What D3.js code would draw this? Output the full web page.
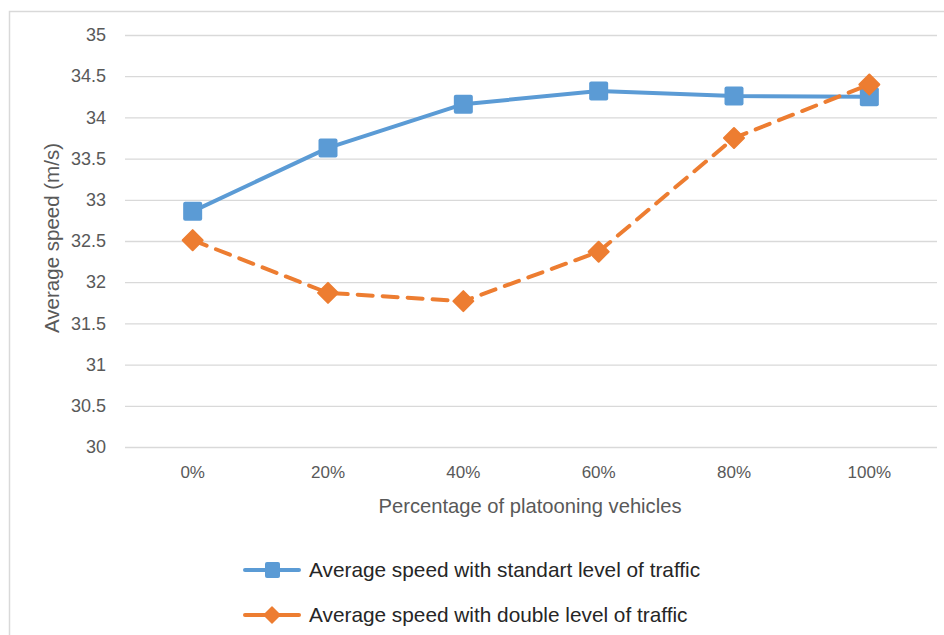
<!DOCTYPE html>
<html>
<head>
<meta charset="utf-8">
<script src="https://cdnjs.cloudflare.com/ajax/libs/d3/7.8.5/d3.min.js"></script>
<style>
  body { margin: 0; background: #fff; }
  svg text { font-family: "Liberation Sans", Arial, sans-serif; }
</style>
</head>
<body>
<svg width="944" height="635"></svg>
<script>
var categories = ["0%", "20%", "40%", "60%", "80%", "100%"];
var standardSpeed = [32.86, 33.63, 34.16, 34.32, 34.26, 34.25];
var doubleSpeed = [32.51, 31.87, 31.77, 32.37, 33.75, 34.40];
var yTicks = [30, 30.5, 31, 31.5, 32, 32.5, 33, 33.5, 34, 34.5, 35];
var seriesNames = ["Average speed with standart level of traffic",
  "Average speed with double level of traffic"];

var svg = d3.select("svg"),
  margin = { top: 35, right: 7, bottom: 188, left: 125 },
  width = +svg.attr("width") - margin.left - margin.right,
  height = +svg.attr("height") - margin.top - margin.bottom;

// outer chart border (cropped on right and bottom)
svg.append("path")
  .attr("d", "M9.5,640V11.5H950")
  .attr("fill", "none")
  .attr("stroke", "#d9d9d9")
  .attr("stroke-width", 1.5);

var x = d3.scaleBand().domain(categories).range([0, width]),
  y = d3.scaleLinear().domain([30, 35]).range([height, 0]);

var g = svg.append("g")
  .attr("transform", "translate(" + margin.left + "," + margin.top + ")");

var yAxis = g.append("g")
  .call(d3.axisLeft(y).tickValues(yTicks).tickSize(-width).tickPadding(19)
    .tickFormat(function(d) { return d; }));
yAxis.select(".domain").remove();
yAxis.selectAll("line").attr("stroke", "#d9d9d9").attr("stroke-width", 1.3);
yAxis.selectAll("text").attr("fill", "#595959").style("font-size", "18px");

var xAxis = g.append("g")
  .attr("transform", "translate(0," + height + ")")
  .call(d3.axisBottom(x).tickSize(0).tickPadding(19));
xAxis.select(".domain").remove();
xAxis.selectAll("text").attr("fill", "#595959").style("font-size", "17px");

g.append("text")
  .attr("transform", "rotate(-90)")
  .attr("x", -height / 2 + 3)
  .attr("y", -66)
  .attr("text-anchor", "middle")
  .attr("fill", "#595959")
  .style("font-size", "20.5px")
  .text("Average speed (m/s)");

g.append("text")
  .attr("x", width / 2 - 1)
  .attr("y", height + 66)
  .attr("text-anchor", "middle")
  .attr("fill", "#595959")
  .style("font-size", "20.2px")
  .text("Percentage of platooning vehicles");

var line = d3.line()
  .x(function(d, i) { return x(categories[i]) + x.bandwidth() / 2; })
  .y(function(d) { return y(d); });

var diamond = "M0,-10L10,0L0,10L-10,0Z";

// standard traffic
g.append("path")
  .datum(standardSpeed)
  .attr("fill", "none")
  .attr("stroke", "#5b9bd5")
  .attr("stroke-width", 4)
  .attr("stroke-linejoin", "round")
  .attr("d", line);

g.selectAll(".sq")
  .data(standardSpeed)
  .enter().append("rect")
  .attr("x", function(d, i) { return x(categories[i]) + x.bandwidth() / 2 - 9.5; })
  .attr("y", function(d) { return y(d) - 9.5; })
  .attr("width", 19)
  .attr("height", 19)
  .attr("rx", 2)
  .attr("fill", "#5b9bd5");

// double traffic
g.append("path")
  .datum(doubleSpeed)
  .attr("fill", "none")
  .attr("stroke", "#ed7d31")
  .attr("stroke-width", 4)
  .attr("stroke-dasharray", "15,10")
  .attr("stroke-linecap", "round")
  .attr("d", line);

g.selectAll(".dm")
  .data(doubleSpeed)
  .enter().append("path")
  .attr("transform", function(d, i) {
    return "translate(" + (x(categories[i]) + x.bandwidth() / 2) + "," + y(d) + ")";
  })
  .attr("d", diamond)
  .attr("stroke", "#ed7d31")
  .attr("stroke-width", 2)
  .attr("stroke-linejoin", "round")
  .attr("fill", "#ed7d31");

// legend
var legend = svg.append("g").attr("transform", "translate(243,0)");
[570, 615].forEach(function(ly, i) {
  var color = i === 0 ? "#5b9bd5" : "#ed7d31";
  legend.append("line")
    .attr("x1", 2).attr("x2", 56)
    .attr("y1", ly).attr("y2", ly)
    .attr("stroke", color)
    .attr("stroke-width", 4)
    .attr("stroke-linecap", "round");
  if (i === 0) {
    legend.append("rect")
      .attr("x", 22).attr("y", ly - 8)
      .attr("width", 15).attr("height", 16)
      .attr("rx", 2)
      .attr("fill", color);
  } else {
    legend.append("path")
      .attr("transform", "translate(29," + ly + ")")
      .attr("d", "M0,-8L8,0L0,8L-8,0Z")
      .attr("stroke", color)
      .attr("stroke-width", 1.5)
      .attr("stroke-linejoin", "round")
      .attr("fill", color);
  }
  legend.append("text")
    .attr("x", 66)
    .attr("y", ly + 7)
    .attr("fill", "#262626")
    .style("font-size", "20.8px")
    .text(seriesNames[i]);
});
</script>
</body>
</html>
